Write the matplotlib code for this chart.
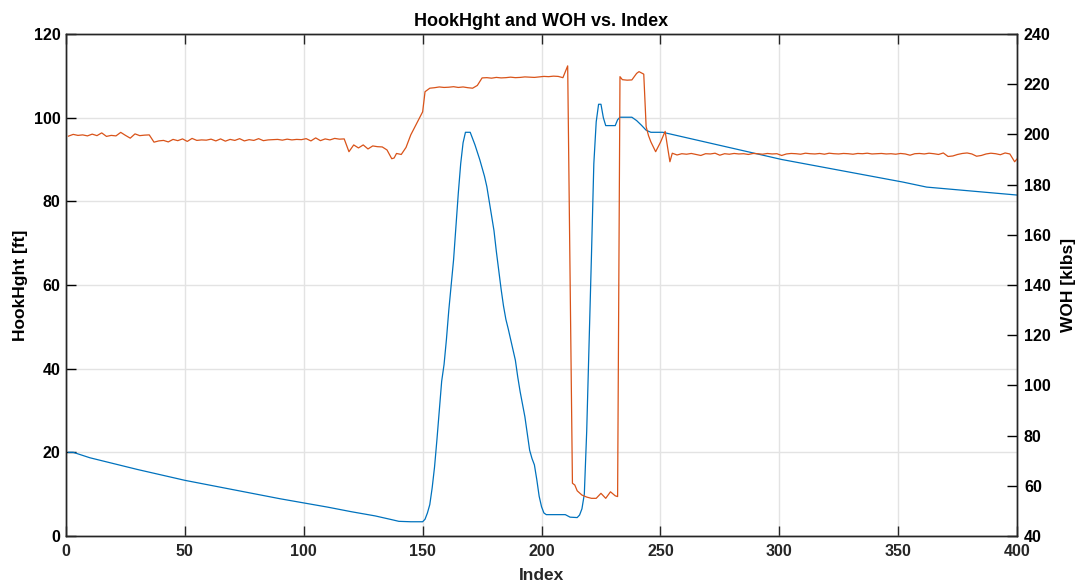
import matplotlib.pyplot as plt

plt.rcParams['font.family'] = ['Liberation Sans', 'DejaVu Sans']

# Hook height [ft] per sample index
hook_idx = [1, 3, 10, 20, 30, 40, 50, 60, 70, 80, 90, 100, 110, 120, 130, 137, 140, 145, 150,
            151, 152, 153, 154, 155, 156, 157, 158, 159, 160, 161, 162, 163, 164, 165, 166, 167, 168,
            170, 171, 172, 174, 176, 177, 178, 179, 180, 181, 182, 183, 184, 185, 186, 187, 188, 189,
            190, 191, 192, 193, 194, 195, 196, 197, 198, 199, 200, 201, 202, 210, 211, 212, 215, 216,
            217, 218, 219, 220, 221, 222, 223, 224, 225, 226, 227, 231, 232, 233, 238, 240, 242, 244,
            246, 251, 301, 352, 362, 400]
hook_val = [20.0, 20.0, 18.7, 17.3, 15.9, 14.6, 13.3, 12.2, 11.1, 10.0, 8.9, 7.9, 6.9, 5.8, 4.8, 3.9, 3.5, 3.4, 3.4,
            4.0, 5.5, 7.5, 11.5, 16.5, 23.0, 30.0, 37.0, 41.0, 47.0, 54.0, 60.0, 66.0, 74.0, 82.0, 89.0, 94.0, 96.5,
            96.5, 95.0, 93.5, 90.0, 86.0, 83.5, 80.0, 76.5, 73.0, 68.0, 63.5, 59.0, 55.0, 51.8, 49.5, 47.0, 44.5, 42.0,
            38.0, 34.5, 31.5, 28.5, 24.5, 20.5, 18.5, 17.0, 13.5, 9.5, 7.0, 5.5, 5.1, 5.1, 4.8, 4.5, 4.4, 5.0,
            6.5, 10.0, 25.0, 46.0, 67.0, 89.0, 99.0, 103.2, 103.2, 100.0, 98.1, 98.1, 99.5, 100.1, 100.1, 99.3, 98.2, 97.0,
            96.5, 96.5, 90.0, 84.6, 83.4, 81.5]

# Weight on hook [klbs] per sample index
woh_idx = (list(range(1, 37, 2)) + list(range(37, 119, 2)) +
           [119, 121, 123, 125, 127, 129, 131, 133, 135, 137, 138, 139, 141, 143, 145, 147, 149, 150, 151]
           + list(range(153, 211, 2)) +
           [211, 213, 214, 215, 217, 219, 221, 223, 225, 226, 227, 229, 230, 231, 232,
            233, 234, 236, 238, 240, 241, 243, 244, 245, 246, 248, 250, 252, 253, 254, 255, 257]
           + list(range(259, 400, 2)) + [400])
woh_val = ([199.3, 200.0, 199.6, 199.8, 199.4, 200.1, 199.5, 200.6, 199.2, 199.6, 199.4, 200.8,
            199.6, 198.5, 200.2, 199.5, 199.7, 199.8] +
           [196.9, 197.4, 197.6, 197.0, 198.0, 197.5, 198.2, 197.2, 198.4, 197.6, 197.8, 197.7, 198.1, 197.4,
            198.2, 197.3, 198.0, 197.6, 198.3, 197.4, 197.9, 197.6, 198.3, 197.5, 197.8, 197.9, 198.0, 197.7,
            198.1, 197.8, 198.0, 197.9, 198.3, 197.4, 198.6, 197.5, 198.2, 197.8, 198.4, 198.1, 198.2] +
           [193.1, 195.8, 194.6, 195.8, 194.2, 195.4, 195.1, 195.0, 193.8, 190.3, 190.6, 192.4, 192.0, 194.8,
            199.8, 203.5, 207.2, 209.0, 217.0] +
           [218.4, 218.6, 218.9, 218.7, 218.8, 219.0, 218.7, 218.9, 218.6, 218.4, 219.5, 222.5, 222.6, 222.4,
            222.7, 222.5, 222.6, 222.8, 222.6, 222.7, 222.9, 222.8, 222.7, 222.9, 223.1, 223.0, 223.2, 223.1, 222.6] +
           [227.3, 61.0, 60.3, 58.0, 56.3, 55.5, 55.0, 55.0, 57.0, 56.0, 55.0, 57.6, 56.8, 56.0, 55.7,
            223.0, 221.8, 221.6, 221.7, 224.3, 225.0, 224.0, 203.1, 199.5, 197.0, 193.1, 196.8, 201.2, 195.0,
            189.1, 192.5, 191.8] +
           [192.3, 192.1, 192.4, 192.0, 191.6, 192.3, 192.2, 192.5, 191.7, 192.3, 192.1, 192.4, 192.2, 192.3,
            192.0, 192.4, 192.3, 192.1, 192.4, 192.2, 192.3, 191.6, 192.2, 192.4, 192.3, 192.1, 192.5, 192.3,
            192.2, 192.4, 192.1, 192.5, 192.3, 192.2, 192.4, 192.3, 192.1, 192.4, 192.3, 192.5, 192.2, 192.3,
            192.4, 192.2, 192.3, 192.1, 192.4, 192.2, 191.7, 192.3, 192.4, 192.2, 192.5, 192.3, 192.0, 192.6,
            191.2, 191.4, 192.0, 192.4, 192.6, 192.2, 191.3, 191.6, 192.2, 192.5, 192.3, 191.9, 192.6, 192.2,
            189.1] + [190.2])

fig = plt.figure(figsize=(10.81, 5.85), dpi=100)
ax = fig.add_axes([0.0611, 0.0838, 0.8797, 0.8581])
ax2 = ax.twinx()

ax.plot(hook_idx, hook_val, color='#0072BD', lw=0.9)
ax2.plot(woh_idx, woh_val, color='#D95319', lw=0.9)

ax.set_xlim(0, 400)
ax.set_ylim(0, 120)
ax2.set_ylim(40, 240)
ax.set_xticks(range(0, 401, 50))
ax.set_yticks(range(0, 121, 20))
ax2.set_yticks(range(40, 241, 20))

ax.grid(True, color='#e3e3e3', lw=1.0)
ax.set_axisbelow(True)

for a in (ax, ax2):
    for s in a.spines.values():
        s.set_linewidth(1.0)
        s.set_color('#262626')
ax.tick_params(axis='x', direction='in', length=7, width=1, top=True, colors='#262626',
               labelsize=11.5, pad=6)
ax.tick_params(axis='y', direction='in', length=7, width=1, colors='k', labelsize=11.5, pad=4)
ax2.tick_params(axis='y', direction='in', length=7, width=1, colors='k', labelsize=11.5, pad=5)
for lab in ax.get_xticklabels() + ax.get_yticklabels() + ax2.get_yticklabels():
    lab.set_fontweight('bold')

ax.set_title('HookHght and WOH vs. Index', fontsize=13, fontweight='bold', pad=6)
ax.set_xlabel('Index', fontsize=12.5, fontweight='bold', color='#262626', labelpad=6)
ax.set_ylabel('HookHght [ft]', fontsize=12.5, fontweight='bold', labelpad=4)
ax2.set_ylabel('WOH [klbs]', fontsize=12.5, fontweight='bold', labelpad=7)

fig.savefig('out.png', dpi=100)
